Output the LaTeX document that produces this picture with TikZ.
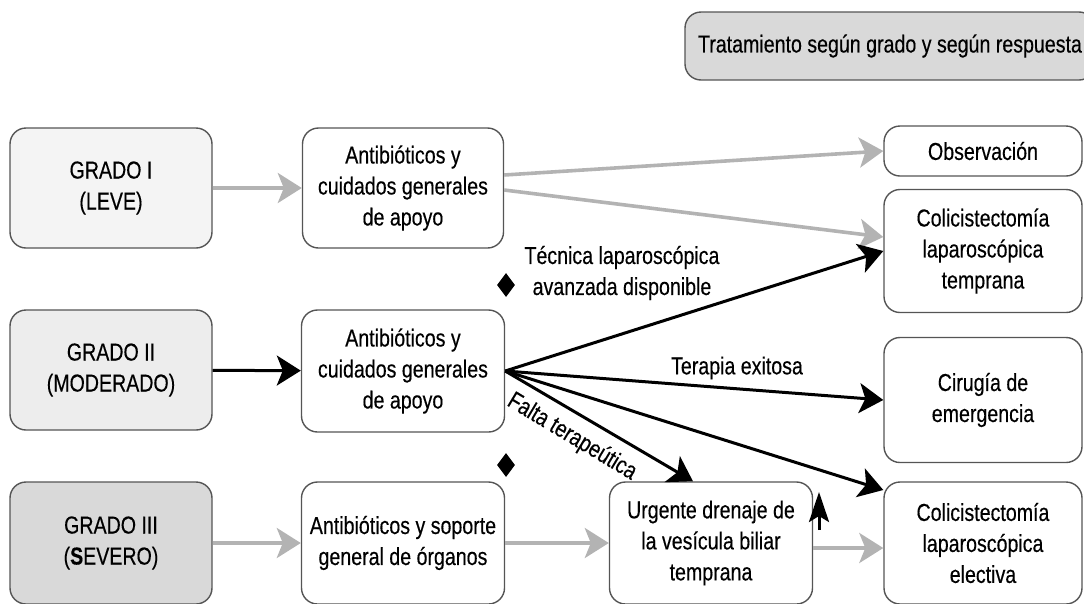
\documentclass[tikz,border=0pt]{standalone}
\usepackage{fontspec}
\setmainfont{Liberation Sans}[FakeStretch=0.8, FakeBold=0.3]
\usetikzlibrary{arrows.meta,shapes.geometric}

\definecolor{grisborde}{HTML}{555555}
\definecolor{grisflecha}{HTML}{B3B3B3}
\definecolor{gradouno}{HTML}{F4F4F4}
\definecolor{gradodos}{HTML}{EDEDED}
\definecolor{gradotres}{HTML}{D9D9D9}

\tikzset{
  caja/.style={draw=grisborde, line width=1.4pt, rounded corners=16pt, align=center,
    inner sep=0pt, fill=white},
  punta/.style={-{Stealth[length=24pt,width=30pt,inset=6pt]}},
  flechagris/.style={draw=grisflecha, line width=3.6pt, punta},
  flechanegra/.style={draw=black, line width=3pt, punta},
  rombo/.style={diamond, fill=black, inner sep=0pt, minimum width=18pt, minimum height=24pt},
  rotulo/.style={align=center, inner sep=0pt}
}

\begin{document}
\begin{tikzpicture}[x=1pt, y=-1pt, font=\fontsize{24.5}{31}\selectfont]
   \useasboundingbox (0,0) rectangle (1084,603);

   % Titulo
   \node[caja, fill=gradotres, minimum width=410pt, minimum height=68pt] (titulo) at (890,46)
      {Tratamiento según grado y según respuesta};

   % Grados
   \node[caja, fill=gradouno, minimum width=202pt, minimum height=120pt] (grado1) at (111,188) {GRADO I\\(LEVE)};
   \node[caja, fill=gradodos, minimum width=202pt, minimum height=120pt] (grado2) at (111,370) {GRADO II\\(MODERADO)};
   \node[caja, fill=gradotres, minimum width=202pt, minimum height=122pt] (grado3) at (111,543) {GRADO III\\(\textbf{S}EVERO)};

   % Tratamiento inicial
   \node[caja, minimum width=201pt, minimum height=120pt] (antib1) at (403,188) {Antibióticos y\\cuidados generales\\de apoyo};
   \node[caja, minimum width=203pt, minimum height=122pt] (antib2) at (403,371) {Antibióticos y\\cuidados generales\\de apoyo};
   \node[caja, minimum width=203pt, minimum height=122pt] (antib3) at (403,543) {Antibióticos y soporte\\general de órganos};
   \node[caja, minimum width=203pt, minimum height=122pt] (drenaje) at (711,543) {Urgente drenaje de\\la vesícula biliar\\temprana};

   % Resultados
   \node[caja, minimum width=198pt, minimum height=50pt] (observ) at (983,151) {Observación};
   \node[caja, minimum width=198pt, minimum height=123pt] (coltemp) at (983,251) {Colicistectomía\\laparoscópica\\temprana};
   \node[caja, minimum width=198pt, minimum height=125pt] (cirugia) at (983,400) {Cirugía de\\emergencia};
   \node[caja, minimum width=198pt, minimum height=122pt] (colelec) at (983,543) {Colicistectomía\\laparoscópica\\electiva};

   % Rombos
   \node[rombo] (rombo1) at (506,285) {};
   \node[rombo] (rombo2) at (506,465) {};

   % Grado I
   \draw[flechagris] (grado1) -- (antib1);
   \draw[flechagris] ([yshift=13pt]antib1.east) -- (observ.west);
   \draw[flechagris] ([yshift=-2pt]antib1.east) -- ([yshift=14pt]coltemp.west);

   % Grado II
   \draw[flechanegra] (grado2) -- (antib2);
   \draw[flechanegra] (antib2.east) -- (coltemp.west);
   \draw[flechanegra] (antib2.east) -- (cirugia.west);
   \draw[flechanegra] (antib2.east) -- ([xshift=-18pt]drenaje.north);
   \draw[flechanegra] (antib2.east) -- ([yshift=53pt]colelec.west);

   % Grado III
   \draw[flechagris] (grado3) -- (antib3);
   \draw[flechagris] (antib3) -- (drenaje);
   \draw[flechagris] ([yshift=-5pt]drenaje.east) -- ([yshift=-5pt]colelec.west);
   \coordinate (subida) at (819,530);
   \draw[flechanegra, -{Stealth[length=30pt,width=20pt,inset=6pt]}] (subida) -- ++(0,-38);

   % Rotulos
   \node[rotulo] (tecnica) at (622,273) {Técnica laparoscópica\\avanzada disponible};
   \node[rotulo] (exitosa) at (737,368) {Terapia exitosa};
   \node[rotulo, rotate=-31] (falta) at (572,437) {Falta terapeútica};
\end{tikzpicture}
\end{document}
